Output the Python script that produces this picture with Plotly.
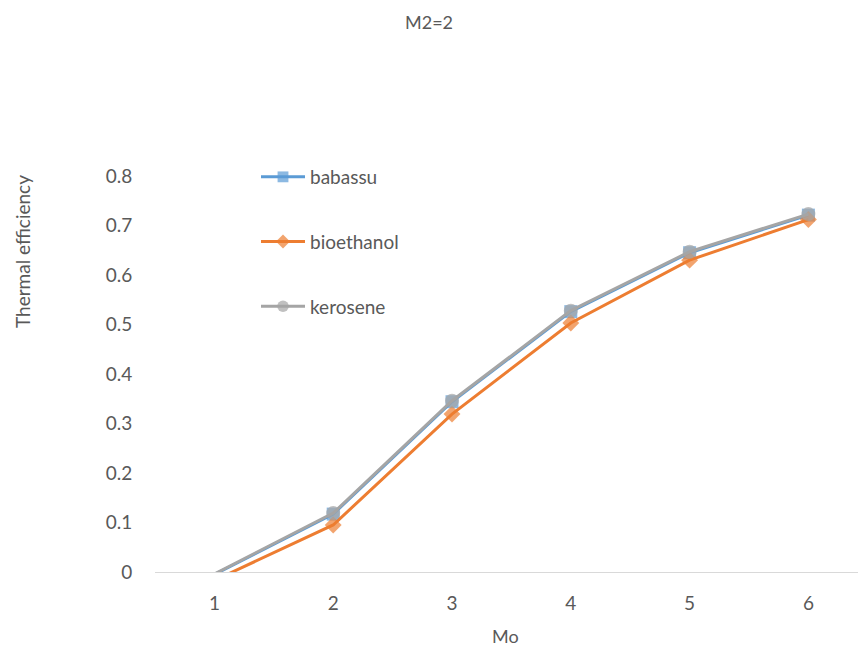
import plotly.graph_objects as go

# Thermal efficiency vs Mo at M2 = 2
mo = [1, 2, 3, 4, 5, 6]
babassu = [-0.005, 0.117, 0.344, 0.526, 0.645, 0.721]
bioethanol = [-0.017, 0.095, 0.319, 0.503, 0.630, 0.712]
kerosene = [-0.004, 0.119, 0.346, 0.528, 0.647, 0.723]

y_ticks = [0, 0.1, 0.2, 0.3, 0.4, 0.5, 0.6, 0.7, 0.8]
y_tick_text = ["0", "0.1", "0.2", "0.3", "0.4", "0.5", "0.6", "0.7", "0.8"]

W, H = 858, 649
L, R, T, B = 155, 0, 176, 77
FONT = "Lato, Carlito, Calibri, sans-serif"
TEXT = "#595959"


def px_x(p):
    return (p - L) / (W - L - R)


def px_y(p):
    return (H - B - p) / (H - B - T)


fig = go.Figure()
series = [
    ("babassu", babassu, "#5B9BD5", "square", 13),
    ("bioethanol", bioethanol, "#ED7D31", "diamond", 13),
    ("kerosene", kerosene, "#A5A5A5", "circle", 14),
]
for name, vals, col, sym, size in series:
    # points below the axis floor keep their line segment but no marker
    sizes = [0 if v < 0 else size for v in vals]
    fig.add_trace(go.Scatter(
        x=mo, y=vals, name=name, mode="lines+markers",
        legendgroup=name,
        line=dict(color=col, width=3),
        marker=dict(symbol=sym, size=sizes, color=col, line=dict(width=0)),
    ))

fig.update_layout(
    width=W, height=H,
    margin=dict(l=L, r=R, t=T, b=B),
    paper_bgcolor="white", plot_bgcolor="white",
    font=dict(family=FONT, color=TEXT, size=19),
    showlegend=True,
    legend=dict(
        x=px_x(256), y=px_y(158), xanchor="left", yanchor="top",
        bgcolor="rgba(0,0,0,0)", font=dict(size=19, color=TEXT),
        tracegroupgap=37, itemwidth=44,
    ),
    xaxis=dict(
        range=[0.5, 0.5 + (W - L - R) / 118.8],
        tickvals=mo, ticktext=[str(v) for v in mo],
        showgrid=False, zeroline=False,
        showline=True, linecolor="#D9D9D9", linewidth=1,
        ticks="outside", ticklen=14, tickcolor="rgba(0,0,0,0)",
        tickfont=dict(size=19, color=TEXT),
    ),
    yaxis=dict(
        range=[0, 0.8], tickvals=y_ticks, ticktext=y_tick_text,
        showgrid=False, zeroline=False, showline=False,
        ticks="outside", ticklen=18, tickcolor="rgba(0,0,0,0)",
        tickfont=dict(size=19, color=TEXT),
    ),
    annotations=[
        dict(text="M2=2", x=px_x(429), y=px_y(22), xref="paper", yref="paper",
             xanchor="center", yanchor="middle",
             showarrow=False, font=dict(size=18, color=TEXT)),
        dict(text="Mo", x=px_x(505), y=px_y(636), xref="paper", yref="paper",
             xanchor="center", yanchor="middle",
             showarrow=False, font=dict(size=18, color=TEXT)),
        dict(text="Thermal efficiency", x=px_x(22), y=px_y(252),
             xref="paper", yref="paper", textangle=-90,
             xanchor="center", yanchor="middle",
             showarrow=False, font=dict(size=19, color=TEXT)),
    ],
)

fig.write_html("out.html")
